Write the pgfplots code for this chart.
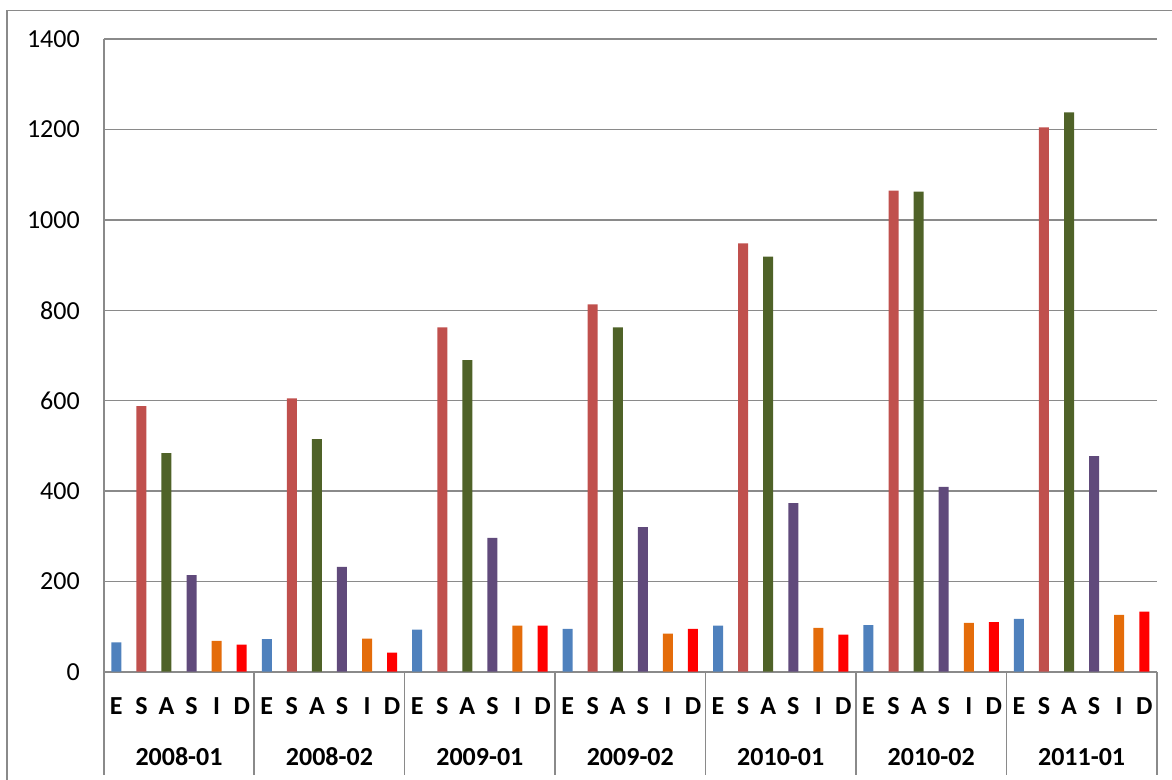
\documentclass[border=0pt]{standalone}
\usepackage{pgfplots}
\pgfplotsset{compat=1.18}
\usepackage{fontspec}
\setmainfont{Carlito}
\definecolor{cE}{HTML}{4F81BD}
\definecolor{cS}{HTML}{C0504D}
\definecolor{cA}{HTML}{4F6228}
\definecolor{cP}{HTML}{604A7B}
\definecolor{cI}{HTML}{E46C0A}
\definecolor{cD}{HTML}{FF0000}
\definecolor{gridc}{HTML}{8A8A8A}
\begin{document}
\begin{tikzpicture}
\path[use as bounding box] (0,0) rectangle (586pt,390pt);
\draw[gridc, line width=0.8pt] (3.6pt,-10pt) -- (3.6pt,384.8pt) -- (600pt,384.8pt);
\begin{axis}[
  at={(51.9pt,54.15pt)}, anchor=south west,
  scale only axis, width=526.5pt, height=316.2pt,
  xmin=-0.5, xmax=41.5, ymin=0, ymax=1400,
  clip=false,
  axis x line*=bottom, axis y line*=left,
  axis line style={gridc, line width=1pt, -},
  ymajorgrids, grid style={gridc, line width=0.8pt},
  ytick={0,200,...,1400},
  ytick style={draw=none},
  yticklabel style={font=\fontsize{13}{15}\selectfont, xshift=-8.5pt},
  /pgf/number format/1000 sep={},
  /pgf/number format/assume math mode=true,
  xtick={0,...,41},
  xticklabels={E,S,A,S,I,D,E,S,A,S,I,D,E,S,A,S,I,D,E,S,A,S,I,D,E,S,A,S,I,D,E,S,A,S,I,D,E,S,A,S,I,D},
  xticklabel style={font=\fontsize{13}{15}\selectfont\bfseries, anchor=center, yshift=-17.2pt},
  major tick length=0pt,
  minor xtick={-0.5,5.5,11.5,17.5,23.5,29.5,35.5,41.5},
  tick align=outside,
  minor tick length=51.5pt,
  minor tick style={draw=gridc, line width=0.8pt},
  ybar, bar width=5pt,
  every axis plot/.append style={bar shift=0pt, draw=none},
]
\addplot[fill=cE] coordinates {(0,65) (6,72) (12,93) (18,95) (24,102) (30,103) (36,117)};
\addplot[fill=cS] coordinates {(1,588) (7,605) (13,762) (19,813) (25,948) (31,1065) (37,1205)};
\addplot[fill=cA] coordinates {(2,484) (8,515) (14,690) (20,762) (26,919) (32,1063) (38,1238)};
\addplot[fill=cP] coordinates {(3,214) (9,232) (15,296) (21,320) (27,373) (33,409) (39,477)};
\addplot[fill=cI] coordinates {(4,68) (10,73) (16,102) (22,84) (28,97) (34,108) (40,126)};
\addplot[fill=cD] coordinates {(5,60) (11,42) (17,102) (23,95) (29,82) (35,110) (41,133)};
\foreach \x/\lab in {2.5/2008-01,8.5/2008-02,14.5/2009-01,20.5/2009-02,26.5/2010-01,32.5/2010-02,38.5/2011-01}{
  \edef\tmp{\noexpand\node[font=\noexpand\fontsize{13}{15}\noexpand\selectfont\noexpand\bfseries, anchor=center, yshift=-42.7pt] at (axis cs:\x,0) {\lab};}
  \tmp
}
\end{axis}
\end{tikzpicture}
\end{document}
